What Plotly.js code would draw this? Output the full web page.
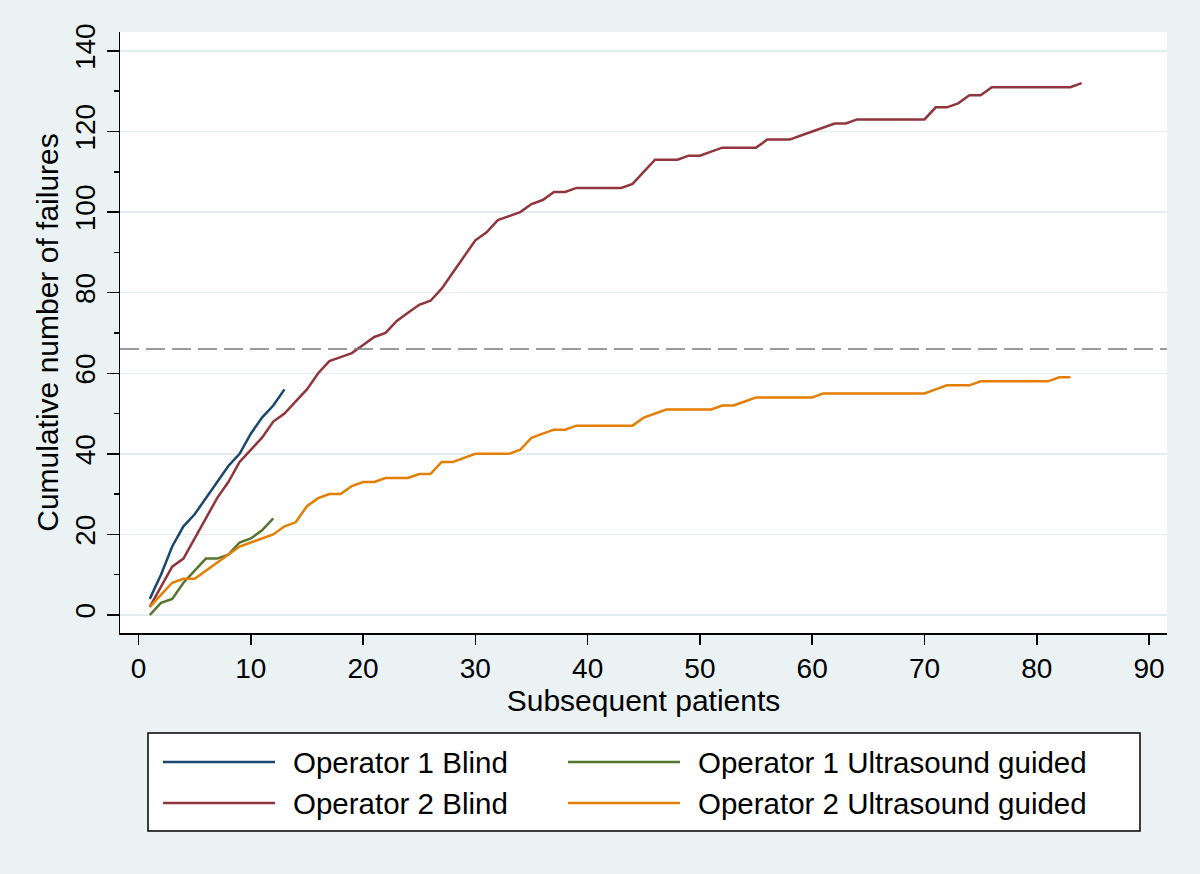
<!DOCTYPE html>
<html>
<head>
<meta charset="utf-8">
<script src="https://cdn.plot.ly/plotly-3.0.1.min.js"></script>
<style>
  body { margin: 0; background: #EAF2F3; }
  #chart { width: 1200px; height: 874px; }
</style>
</head>
<body>
<div id="chart"></div>
<script>
// subsequent patient number and cumulative failures
var op1BlindX = [1, 2, 3, 4, 5, 6, 7, 8, 9, 10, 11, 12, 13];
var op1BlindY = [4, 10, 17, 22, 25, 29, 33, 37, 40, 45, 49, 52, 56];

var op1UsX = [1, 2, 3, 4, 5, 6, 7, 8, 9, 10, 11, 12];
var op1UsY = [0, 3, 4, 8, 11, 14, 14, 15, 18, 19, 21, 24];

var op2BlindY = [
  2, 7, 12, 14, 19, 24, 29, 33, 38, 41, 44, 48, 50, 53, 56, 60, 63, 64, 65, 67,
  69, 70, 73, 75, 77, 78, 81, 85, 89, 93, 95, 98, 99, 100, 102, 103, 105, 105, 106, 106,
  106, 106, 106, 107, 110, 113, 113, 113, 114, 114, 115, 116, 116, 116, 116, 118, 118, 118, 119, 120,
  121, 122, 122, 123, 123, 123, 123, 123, 123, 123, 126, 126, 127, 129, 129, 131, 131, 131, 131, 131,
  131, 131, 131, 132
];
var op2UsY = [
  2, 5, 8, 9, 9, 11, 13, 15, 17, 18, 19, 20, 22, 23, 27, 29, 30, 30, 32, 33,
  33, 34, 34, 34, 35, 35, 38, 38, 39, 40, 40, 40, 40, 41, 44, 45, 46, 46, 47, 47,
  47, 47, 47, 47, 49, 50, 51, 51, 51, 51, 51, 52, 52, 53, 54, 54, 54, 54, 54, 54,
  55, 55, 55, 55, 55, 55, 55, 55, 55, 55, 56, 57, 57, 57, 58, 58, 58, 58, 58, 58,
  58, 59, 59
];
var op2BlindX = op2BlindY.map(function (v, i) { return i + 1; });
var op2UsX = op2UsY.map(function (v, i) { return i + 1; });

var thresholdY = 66;

var fontFamily = '"Liberation Sans", Arial, Helvetica, sans-serif';

var data = [
  { x: op1BlindX, y: op1BlindY, name: 'Operator 1 Blind', type: 'scatter', mode: 'lines',
    line: { color: '#1A476F', width: 2.5 } },
  { x: op1UsX, y: op1UsY, name: 'Operator 1 Ultrasound guided', type: 'scatter', mode: 'lines',
    line: { color: '#55752F', width: 2.5 } },
  { x: op2BlindX, y: op2BlindY, name: 'Operator 2 Blind', type: 'scatter', mode: 'lines',
    line: { color: '#90353B', width: 2.5 } },
  { x: op2UsX, y: op2UsY, name: 'Operator 2 Ultrasound guided', type: 'scatter', mode: 'lines',
    line: { color: '#E37E00', width: 2.5 } }
];

// plot box in pixels, used to place the legend below it
var plotL = 120, plotR = 1167, plotT = 32, plotB = 633;
function px2x(p) { return (p - plotL) / (plotR - plotL); }
function px2y(p) { return (plotB - p) / (plotB - plotT); }

// legend (stata style box, 2 columns)
var shapes = [
  { type: 'line', xref: 'paper', x0: 0, x1: 1, yref: 'y', y0: thresholdY, y1: thresholdY,
    line: { color: '#7A7A7A', width: 1.5, dash: '19px,7px' } },
  { type: 'rect', xref: 'paper', yref: 'paper', x0: px2x(148), x1: px2x(1140), y0: px2y(733), y1: px2y(831),
    fillcolor: '#FFFFFF', line: { color: '#000000', width: 1.5 } }
];
var annotations = [];
var colStart = [163, 568];
var rowY = [762, 803];
data.forEach(function (tr, i) {
  var c = i % 2, r = Math.floor(i / 2);
  shapes.push({ type: 'line', xref: 'paper', yref: 'paper',
    x0: px2x(colStart[c]), x1: px2x(colStart[c] + 112), y0: px2y(rowY[r]), y1: px2y(rowY[r]),
    line: { color: tr.line.color, width: 2.5 } });
  annotations.push({ xref: 'paper', yref: 'paper', x: px2x(colStart[c] + 128), y: px2y(rowY[r]),
    xanchor: 'left', yanchor: 'middle', showarrow: false, text: tr.name,
    font: { size: 29.5, color: '#000000' } });
});

var layout = {
  width: 1200,
  height: 874,
  paper_bgcolor: '#EAF2F3',
  plot_bgcolor: '#FFFFFF',
  margin: { l: plotL, r: 1200 - plotR, t: plotT, b: 874 - plotB, autoexpand: false },
  font: { family: fontFamily, color: '#000000', size: 28 },
  showlegend: false,
  xaxis: {
    range: [-1.65, 91.6],
    tick0: 0,
    dtick: 10,
    ticks: 'outside',
    ticklen: 10,
    tickwidth: 1.5,
    tickcolor: '#000000',
    showline: true,
    linecolor: '#000000',
    linewidth: 1.5,
    showgrid: false,
    zeroline: false,
    tickfont: { size: 28 },
    title: { text: 'Subsequent patients', font: { size: 30 }, standoff: 7 }
  },
  yaxis: {
    range: [-4.47, 144.7],
    tick0: 0,
    dtick: 20,
    tickangle: -90,
    ticks: 'outside',
    ticklen: 12,
    tickwidth: 1.5,
    tickcolor: '#000000',
    showline: true,
    linecolor: '#000000',
    linewidth: 1.5,
    showgrid: true,
    gridcolor: '#E3EDEF',
    gridwidth: 1.5,
    zeroline: false,
    tickfont: { size: 28 },
    minor: { dtick: 10, tick0: 0, ticks: 'outside', ticklen: 5, tickwidth: 1.5, tickcolor: '#000000', showgrid: false },
    title: { text: 'Cumulative number of failures', font: { size: 30 }, standoff: 3 }
  },
  shapes: shapes,
  annotations: annotations
};

Plotly.newPlot('chart', data, layout, { displayModeBar: false, staticPlot: true });
</script>
</body>
</html>
